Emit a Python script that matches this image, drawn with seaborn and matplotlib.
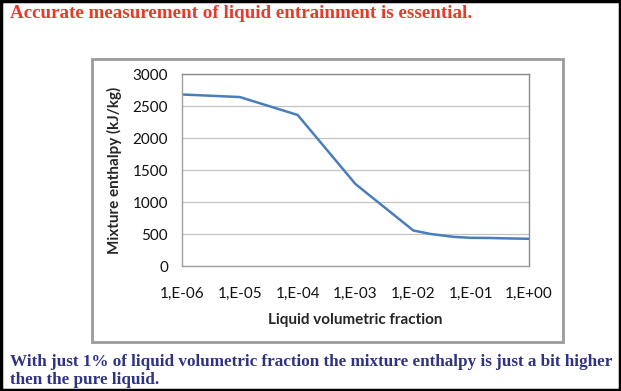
"""Mixture enthalpy versus liquid volumetric fraction."""

import math

import matplotlib.pyplot as plt
import matplotlib.ticker as mticker
import pandas as pd
import seaborn as sns
from matplotlib.patches import Rectangle

fraction = [1e-6, 1e-5, 1e-4, 1e-3, 1e-2, 2e-2, 5e-2, 1e-1, 2e-1, 5e-1, 1e0]
enthalpy = [2680, 2640, 2360, 1280, 555, 500, 455, 440, 438, 430, 425]
x_ticks = [1e-6, 1e-5, 1e-4, 1e-3, 1e-2, 1e-1, 1e0]
y_ticks = [0, 500, 1000, 1500, 2000, 2500, 3000]

TITLE = 'Accurate measurement of liquid entrainment is essential.'
NOTE = ('With just 1% of liquid volumetric fraction the mixture enthalpy is just a bit higher\n'
        'then the pure liquid.')


def sci_label(v, _pos):
    exp = int(round(math.log10(v)))
    sign = '+' if exp >= 0 else '-'
    return '1,E%s%02d' % (sign, abs(exp))


def _main():
    sns.set_style('white')
    plt.rcParams['font.family'] = ['Lato', 'DejaVu Sans']
    W, H = 621, 391
    fig = plt.figure(figsize=(W / 100, H / 100), dpi=100)

    # outer black border and chart frame
    fig.patches.append(Rectangle((0.0015, 0.002), 0.997, 0.996, transform=fig.transFigure,
                                 fill=False, edgecolor='black', lw=2.5))
    fig.patches.append(Rectangle((92 / W, 1 - 342 / H), (563 - 92) / W, (342 - 59) / H,
                                 transform=fig.transFigure, fill=False,
                                 edgecolor='#9a9a9a', lw=2))

    ax = fig.add_axes([182 / W, 1 - 266 / H, (529 - 182) / W, (266 - 74) / H])
    df = pd.DataFrame({'fraction': fraction, 'enthalpy': enthalpy})
    sns.lineplot(data=df, x='fraction', y='enthalpy', ax=ax, color='#4a7ebb', lw=1.8)

    ax.set_xscale('log')
    ax.set_xlim(1e-6, 1)
    ax.set_ylim(0, 3000)
    ax.xaxis.set_major_locator(mticker.FixedLocator(x_ticks))
    ax.xaxis.set_minor_locator(mticker.NullLocator())
    ax.xaxis.set_major_formatter(mticker.FuncFormatter(sci_label))
    ax.set_yticks(y_ticks)
    ax.yaxis.grid(True, color='#c4c4c4', lw=0.9)
    ax.set_axisbelow(True)

    for side in ['top', 'right']:
        ax.spines[side].set_color('#8a8a8a')
        ax.spines[side].set_linewidth(1)
    for side in ['left', 'bottom']:
        ax.spines[side].set_color('#a0a0a0')
        ax.spines[side].set_linewidth(1)

    ax.tick_params(axis='x', direction='out', length=5, width=0.8, color='#a0a0a0',
                   labelsize=11, pad=10, labelcolor='#111111')
    ax.tick_params(axis='y', direction='out', length=4, width=0.8, color='#a0a0a0',
                   labelsize=11, pad=6, labelcolor='#111111')
    ax.set_xlabel('Liquid volumetric fraction', fontsize=11, fontweight='bold', labelpad=9)
    ax.set_ylabel('Mixture enthalpy (kJ/kg)', fontsize=11, fontweight='bold', labelpad=8)

    fig.text(10 / W, 1 - 14 / H, TITLE, color='#e53a2c', fontsize=13.7, fontweight='bold',
             family=['Liberation Serif', 'DejaVu Serif'], va='center', ha='left')
    fig.text(10 / W, 1 - 371 / H, NOTE, color='#2f3382', fontsize=12.3, fontweight='bold',
             family=['Liberation Serif', 'DejaVu Serif'], va='center', ha='left',
             linespacing=1.25)

    plt.savefig('out.png', dpi=100)
    plt.close(fig)


if __name__ == '__main__':
    _main()
